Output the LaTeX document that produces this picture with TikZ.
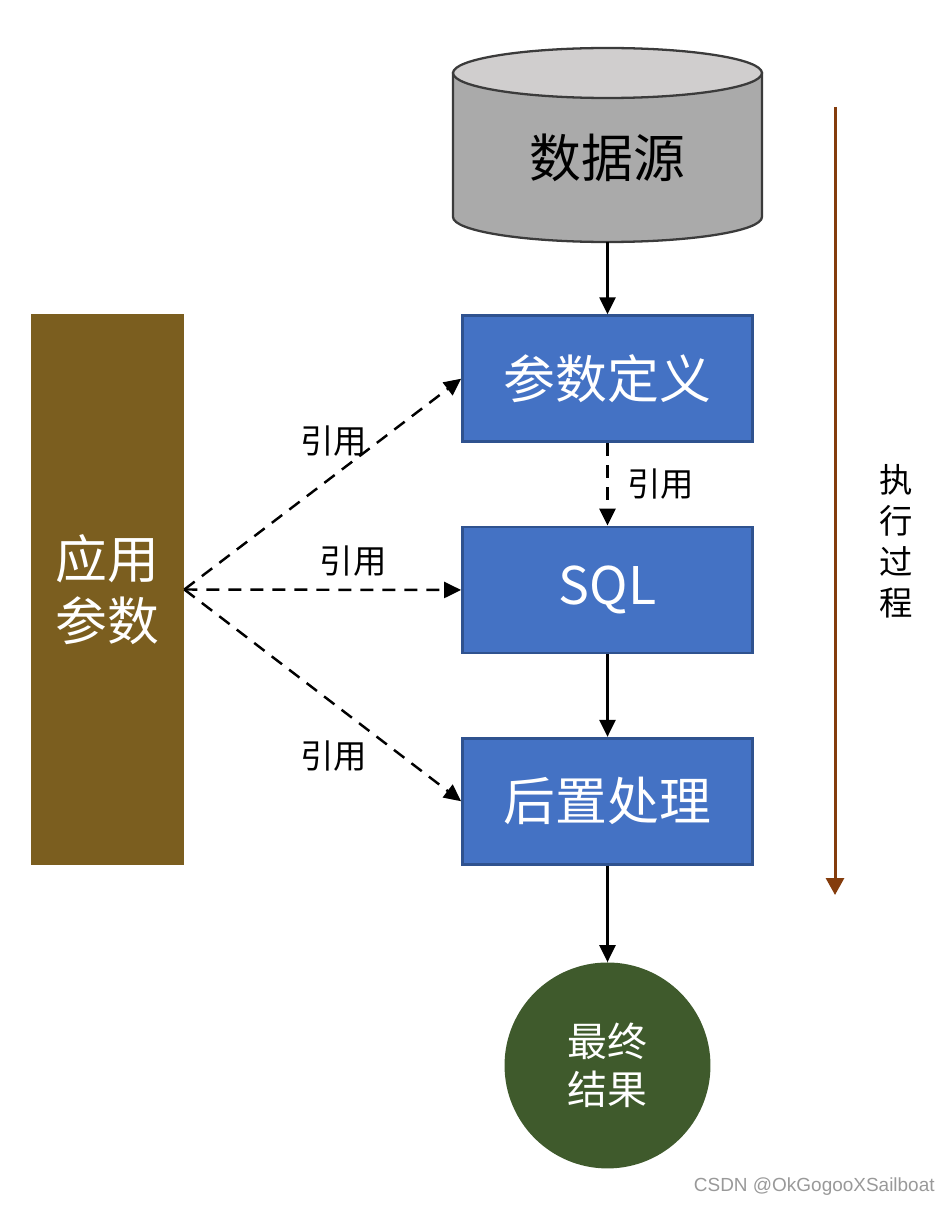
\documentclass[tikz,border=0pt]{standalone}
\usepackage{fontspec}
\setmainfont{Noto Sans CJK SC}
\newfontfamily\wmfont{Liberation Sans}
\usetikzlibrary{positioning, arrows.meta}
\definecolor{boxblue}{HTML}{4472C4}
\definecolor{boxline}{HTML}{2F528F}
\definecolor{appbrown}{HTML}{7B5E1F}
\definecolor{resgreen}{HTML}{3F5A2C}
\definecolor{timebrown}{HTML}{843C0C}
\definecolor{cylbody}{HTML}{AAAAAA}
\definecolor{cyltop}{HTML}{D0CECE}
\definecolor{cylline}{HTML}{3B3B3B}

\begin{document}
\begin{tikzpicture}[x=0.02cm, y=-0.02cm,
    stagebox/.style={rectangle, draw=boxline, line width=1.6pt, fill=boxblue,
      text=white, minimum width=5.8cm, minimum height=2.52cm, font=\fontsize{29.5}{35}\selectfont},
    flow/.style={-{Triangle[length=3.4mm, width=3.2mm]}, line width=1.4pt, black},
    refer/.style={flow, dash pattern=on 0.26cm off 0.18cm},
    reflabel/.style={font=\fontsize{19}{23}\selectfont}]
  \useasboundingbox (0,0) rectangle (950,1206);
  % data source cylinder
  \filldraw[draw=cylline, fill=cylbody, line width=1.3pt] (453,73) -- (453,217)
    arc[start angle=180, end angle=360, x radius=3.09cm, y radius=0.5cm] -- (762,73) -- cycle;
  \filldraw[draw=cylline, fill=cyltop, line width=1.3pt] (607.5,73) ellipse[x radius=3.09cm, y radius=0.5cm];
  \node[minimum width=6.18cm, minimum height=3.36cm, inner sep=0pt,
    font=\fontsize{29.5}{35}\selectfont] (src) at (607.5,158) {数据源};
  % stages
  \node[stagebox, below=1.44cm of src] (def) {参数定义};
  \node[stagebox, below=1.65cm of def] (sql) {SQL};
  \node[stagebox, below=1.65cm of sql] (post) {后置处理};
  \node[circle, fill=resgreen, text=white, minimum size=4.12cm, inner sep=0pt, align=center,
    font=\fontsize{22.7}{27}\selectfont, below=1.93cm of post] (res) {最终\\结果};
  % application parameters
  \node[rectangle, fill=appbrown, text=white, minimum width=3.06cm, minimum height=11.02cm,
    align=center, font=\fontsize{29.5}{35}\selectfont] (app) at (107.5,589.5) {应用\\参数};
  \draw[flow] (src) -- (def);
  \draw[refer] (def) -- node[reflabel, right=0.25cm] {引用} (sql);
  \draw[flow] (sql) -- (post);
  \draw[flow] (post) -- (res);
  \draw[refer] (app.east) -- node[reflabel, pos=0.54, yshift=0.7cm] {引用} (def.west);
  \draw[refer] (app.east) -- node[reflabel, pos=0.61, yshift=0.58cm] {引用} (sql.west);
  \draw[refer] (app.east) -- node[reflabel, pos=0.54, yshift=-1.04cm] {引用} (post.west);
  % execution order
  \coordinate (tstart) at (835,107);
  \coordinate (tend) at (835,895);
  \draw[-{Triangle[length=3.4mm, width=3.6mm]}, timebrown, line width=1.7pt] (tstart) -- (tend);
  \node[reflabel, align=center, font=\fontsize{19}{23.3}\selectfont] (order) at (896,541) {执\\行\\过\\程};
  \node[anchor=south east, text=black!40, font=\wmfont\fontsize{10.8}{13}\selectfont, inner sep=0pt] (mark) at (935,1196) {CSDN @OkGogooXSailboat};
\end{tikzpicture}
\end{document}
